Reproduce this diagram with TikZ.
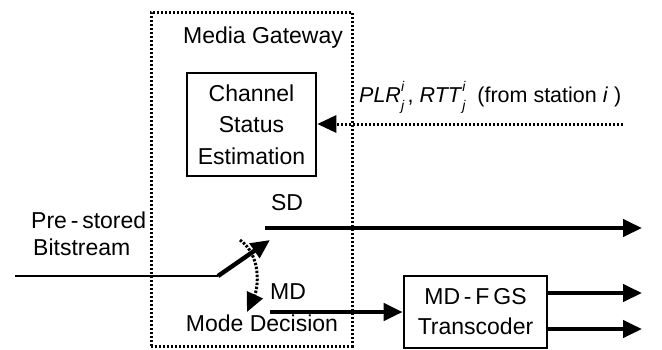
\documentclass[tikz,border=0pt]{standalone}
\usepackage{fontspec}
\setmainfont{Liberation Sans}
\usetikzlibrary{arrows.meta}
\newcommand{\ssb}[2]{\rlap{\raisebox{0.5em}{\fontsize{14}{14}\selectfont\itshape #1}}\raisebox{-0.38em}{\fontsize{14}{14}\selectfont\itshape #2}}
\tikzset{
  txt/.style={font=\fontsize{23}{27}\selectfont, inner sep=0pt},
  dotln/.style={line width=3pt, dash pattern=on 2.4pt off 1.6pt},
  box/.style={draw, line width=2.6pt, inner sep=0pt, align=center},
  tip/.style={-{Triangle[length=19pt,width=17pt]}},
  thick3/.style={line width=4.4pt},
}
\begin{document}
\begin{tikzpicture}[x=1pt,y=-1pt]
\useasboundingbox (0,0) rectangle (662,349);
% gateway dotted box
\node[draw, dotln, minimum width=201pt, minimum height=334pt, inner sep=0pt] (gw) at (251.5,179) {};
\node[txt] (mg) at (263,38) {Media Gateway};
% channel status estimation
\node[box, minimum width=129pt, minimum height=103pt, font=\fontsize{23}{31.5}\selectfont] (cse) at (251.5,124.5) {Channel\\Status\\Estimation};
% MD-FGS transcoder
\node[box, minimum width=143pt, minimum height=72pt, font=\fontsize{23}{30}\selectfont] (tc) at (475.5,312) {MD\,-\,F\,GS\\Transcoder};
% feedback
\coordinate (fbs) at (623,124);
\draw[dotln, tip] (fbs) -- (cse.east |- fbs);
\node[txt, font=\fontsize{21.5}{26}\selectfont, anchor=base west] (plr) at (359,102) {\textit{PLR}\ssb{i}{j}\,, \textit{RTT}\ssb{i}{j}\ \ (from station \textit{i} )};
% input and switch
\coordinate (in0) at (15,276);
\coordinate (pivot) at (218,276);
\coordinate (swt) at (270,240);
\draw[line width=2.8pt] (in0) -- (pivot);
\draw[thick3, tip] (pivot) -- (swt);
\node[txt, anchor=west] (pre) at (31,220) {Pre\,-\,stored};
\node[txt, anchor=west] (bit) at (33,247) {Bitstream};
% SD
\coordinate (sd0) at (265,228);
\coordinate (sd1) at (642,228);
\draw[thick3, tip] (sd0) -- (sd1);
\node[txt] (sdl) at (287,203) {SD};
% MD
\coordinate (md0) at (270,312);
\draw[thick3, tip] (md0) -- (tc.west |- md0);
\node[txt] (mdl) at (288,292) {MD};
\node[txt] (mdec) at (262,323) {Mode Decision};
% mode decision curved arrow
\coordinate (cv0) at (240,240);
\coordinate (cv1) at (247,312);
\draw[dotln, tip] (cv0) .. controls (262,256) and (258,288) .. (cv1);
% outputs
\coordinate (o1) at (642,293);
\coordinate (o2) at (642,329);
\draw[thick3, tip] (tc.east |- o1) -- (o1);
\draw[thick3, tip] (tc.east |- o2) -- (o2);
\end{tikzpicture}
\end{document}
